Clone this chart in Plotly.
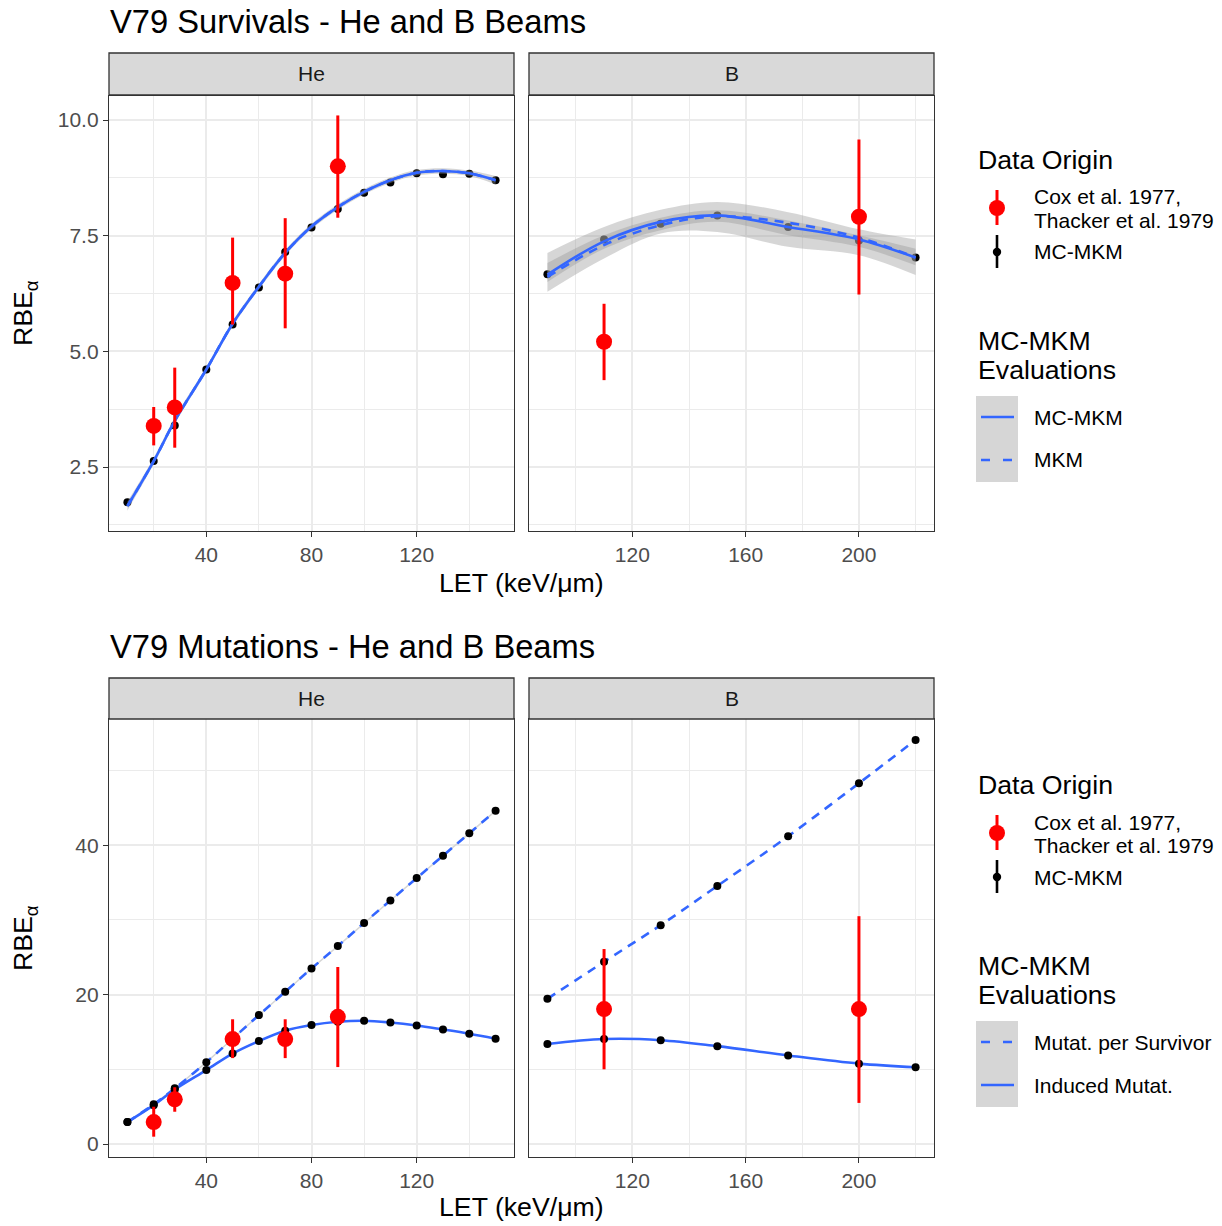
import plotly.graph_objects as go

FONT = "Liberation Sans, Arial, sans-serif"
W, H = 1222, 1226
BLUE = "#3366FF"

# ---------------- data ----------------
let_he = [10, 20, 28, 40, 50, 60, 70, 80, 90, 100, 110, 120, 130, 140, 150]
let_b = [90, 110, 130, 150, 175, 200, 220]

# Survival - MC-MKM points
surv_he_pts = [1.74, 2.63, 3.40, 4.61, 5.58, 6.38, 7.15, 7.68, 8.08, 8.43, 8.65, 8.85, 8.83, 8.84, 8.70]
surv_b_pts = [6.67, 7.42, 7.76, 7.94, 7.69, 7.40, 7.03]

# Survival - smoothed evaluations
surv_he_mcmkm = [1.66, 2.63, 3.50, 4.61, 5.60, 6.40, 7.13, 7.70, 8.12, 8.45, 8.70, 8.86, 8.90, 8.85, 8.70]
surv_he_mkm = [1.66, 2.63, 3.50, 4.61, 5.60, 6.40, 7.13, 7.70, 8.12, 8.45, 8.70, 8.86, 8.90, 8.85, 8.70]
surv_he_lo = [1.56, 2.56, 3.43, 4.55, 5.54, 6.34, 7.07, 7.64, 8.06, 8.39, 8.64, 8.80, 8.84, 8.79, 8.61]
surv_he_hi = [1.76, 2.70, 3.57, 4.67, 5.66, 6.46, 7.19, 7.76, 8.18, 8.51, 8.76, 8.92, 8.96, 8.91, 8.79]

surv_b_mcmkm = [6.66, 7.38, 7.80, 7.94, 7.69, 7.42, 7.03]
surv_b_mkm = [6.61, 7.30, 7.73, 7.92, 7.78, 7.46, 7.03]
surv_b_lo_wide = [6.29, 7.01, 7.55, 7.58, 7.26, 7.08, 6.65]
surv_b_hi_wide = [7.13, 7.69, 8.06, 8.23, 8.01, 7.64, 7.42]
surv_b_lo_narrow = [6.50, 7.22, 7.62, 7.80, 7.51, 7.26, 6.86]
surv_b_hi_narrow = [6.91, 7.51, 7.89, 8.05, 7.83, 7.51, 7.22]

# Survival - experimental (Cox 1977, Thacker 1979)
exp_surv_he_x = [20, 28, 50, 70, 90]
exp_surv_he_y = [3.39, 3.79, 6.48, 6.68, 9.00]
exp_surv_he_lo = [2.97, 2.92, 5.58, 5.50, 7.89]
exp_surv_he_hi = [3.80, 4.65, 7.46, 7.88, 10.10]
exp_surv_b_x = [110, 200]
exp_surv_b_y = [5.21, 7.91]
exp_surv_b_lo = [4.38, 6.23]
exp_surv_b_hi = [6.03, 9.58]

# Mutations - MC-MKM
mut_he_surv = [2.94, 5.31, 7.45, 10.93, 14.10, 17.26, 20.38, 23.50, 26.50, 29.60, 32.60, 35.60, 38.60, 41.60, 44.60]
mut_he_ind = [2.94, 5.20, 7.30, 9.90, 12.10, 13.78, 15.16, 15.92, 16.36, 16.50, 16.27, 15.87, 15.33, 14.76, 14.10]
mut_b_surv = [19.44, 24.40, 29.30, 34.55, 41.20, 48.30, 54.10]
mut_b_ind = [13.38, 14.05, 13.90, 13.10, 11.86, 10.76, 10.27]

# Mutations - experimental
exp_mut_he_x = [20, 28, 50, 70, 90]
exp_mut_he_y = [2.94, 5.98, 14.05, 14.05, 17.03]
exp_mut_he_lo = [0.98, 4.32, 11.50, 11.50, 10.30]
exp_mut_he_hi = [4.99, 7.60, 16.70, 16.70, 23.70]
exp_mut_b_x = [110, 200]
exp_mut_b_y = [18.06, 18.06]
exp_mut_b_lo = [10.00, 5.50]
exp_mut_b_hi = [26.10, 30.50]

# ticks
x_he_major = [40, 80, 120]
x_he_minor = [20, 60, 100, 140]
x_b_major = [120, 160, 200]
x_b_minor = [100, 140, 180, 220]
y_surv_major = [2.5, 5.0, 7.5, 10.0]
y_surv_minor = [1.25, 3.75, 6.25, 8.75]
y_mut_major = [0, 20, 40]
y_mut_minor = [10, 30, 50]

# ---------------- helpers ----------------
def px(x):
    return x / W


def py(y):
    return 1 - y / H


fig = go.Figure()


def pts(x, y, xa, ya):
    fig.add_trace(go.Scatter(x=x, y=y, xaxis=xa, yaxis=ya, mode="markers",
                             marker=dict(color="black", size=8), showlegend=False,
                             hoverinfo="skip"))


def ribbon(x, lo, hi, xa, ya):
    fig.add_trace(go.Scatter(x=x, y=lo, xaxis=xa, yaxis=ya, mode="lines",
                             line=dict(width=0, shape="spline"), showlegend=False,
                             hoverinfo="skip"))
    fig.add_trace(go.Scatter(x=x, y=hi, xaxis=xa, yaxis=ya, mode="lines",
                             line=dict(width=0, shape="spline"), fill="tonexty",
                             fillcolor="rgba(153,153,153,0.4)", showlegend=False,
                             hoverinfo="skip"))


def curve(x, y, xa, ya, dash="solid"):
    fig.add_trace(go.Scatter(x=x, y=y, xaxis=xa, yaxis=ya, mode="lines",
                             line=dict(color=BLUE, width=2.6, shape="spline",
                                       smoothing=1.0, dash=dash),
                             showlegend=False, hoverinfo="skip"))


def exp(x, y, lo, hi, xa, ya):
    fig.add_trace(go.Scatter(
        x=x, y=y, xaxis=xa, yaxis=ya, mode="markers",
        marker=dict(color="#FF0000", size=16),
        error_y=dict(type="data", symmetric=False,
                     array=[h - v for h, v in zip(hi, y)],
                     arrayminus=[v - l for l, v in zip(lo, y)],
                     color="#FF0000", thickness=3, width=0),
        showlegend=False, hoverinfo="skip"))


DASH = "9px,7px"

# ---- top He ----
pts(let_he, surv_he_pts, "x", "y")
ribbon(let_he, surv_he_lo, surv_he_hi, "x", "y")
curve(let_he, surv_he_mcmkm, "x", "y")
curve(let_he, surv_he_mkm, "x", "y", DASH)
exp(exp_surv_he_x, exp_surv_he_y, exp_surv_he_lo, exp_surv_he_hi, "x", "y")

# ---- top B ----
pts(let_b, surv_b_pts, "x2", "y2")
ribbon(let_b, surv_b_lo_wide, surv_b_hi_wide, "x2", "y2")
ribbon(let_b, surv_b_lo_narrow, surv_b_hi_narrow, "x2", "y2")
curve(let_b, surv_b_mcmkm, "x2", "y2")
curve(let_b, surv_b_mkm, "x2", "y2", DASH)
exp(exp_surv_b_x, exp_surv_b_y, exp_surv_b_lo, exp_surv_b_hi, "x2", "y2")

# ---- bottom He ----
fig.add_trace(go.Scatter(x=let_he, y=mut_he_surv, xaxis="x3", yaxis="y3", mode="lines",
                         line=dict(color="#D6D6D6", width=1.5), showlegend=False,
                         hoverinfo="skip"))
curve(let_he, mut_he_surv, "x3", "y3", DASH)
curve(let_he, mut_he_ind, "x3", "y3")
pts(let_he, mut_he_surv, "x3", "y3")
pts(let_he, mut_he_ind, "x3", "y3")
exp(exp_mut_he_x, exp_mut_he_y, exp_mut_he_lo, exp_mut_he_hi, "x3", "y3")

# ---- bottom B ----
curve(let_b, mut_b_surv, "x4", "y4", DASH)
curve(let_b, mut_b_ind, "x4", "y4")
pts(let_b, mut_b_surv, "x4", "y4")
pts(let_b, mut_b_ind, "x4", "y4")
exp(exp_mut_b_x, exp_mut_b_y, exp_mut_b_lo, exp_mut_b_hi, "x4", "y4")

# ---------------- axes ----------------
def axis(domain, rng, major, minor, labels=True, anchor=None, fmt=None):
    d = dict(domain=domain, range=rng, tickvals=major, showline=True, mirror=True,
             linecolor="#333333", linewidth=1.3, showgrid=True, gridcolor="#EBEBEB",
             gridwidth=2, zeroline=False, anchor=anchor,
             minor=dict(tickvals=minor, showgrid=True, gridcolor="#EBEBEB",
                        gridwidth=1, ticks=""),
             tickfont=dict(family=FONT, size=21, color="#4D4D4D"))
    if labels:
        d.update(ticks="outside", ticklen=5, tickwidth=1.3, tickcolor="#333333",
                 showticklabels=True)
    else:
        d.update(ticks="", showticklabels=False)
    if fmt:
        d["tickformat"] = fmt
    return d


xd_he = [px(109), px(514)]
xd_b = [px(529), px(934)]
yd_top = [py(531), py(96)]
yd_bot = [py(1157), py(719)]
xr_he = [3, 157]
xr_b = [83.5, 226.5]
yr_surv = [1.12, 10.52]
yr_mut = [-1.74, 56.9]

fig.update_layout(
    xaxis=axis(xd_he, xr_he, x_he_major, x_he_minor, anchor="y"),
    xaxis2=axis(xd_b, xr_b, x_b_major, x_b_minor, anchor="y2"),
    xaxis3=axis(xd_he, xr_he, x_he_major, x_he_minor, anchor="y3"),
    xaxis4=axis(xd_b, xr_b, x_b_major, x_b_minor, anchor="y4"),
    yaxis=axis(yd_top, yr_surv, y_surv_major, y_surv_minor, anchor="x", fmt=".1f"),
    yaxis2=axis(yd_top, yr_surv, y_surv_major, y_surv_minor, labels=False, anchor="x2"),
    yaxis3=axis(yd_bot, yr_mut, y_mut_major, y_mut_minor, anchor="x3"),
    yaxis4=axis(yd_bot, yr_mut, y_mut_major, y_mut_minor, labels=False, anchor="x4"),
)

# ---------------- decorations ----------------
shapes = []
ann = []


def text(x, y, s, size, color="black", xanchor="left", angle=0):
    ann.append(dict(x=px(x), y=py(y), xref="paper", yref="paper", text=s,
                    showarrow=False, xanchor=xanchor, yanchor="middle",
                    textangle=angle, font=dict(family=FONT, size=size, color=color)))


def rect(x0, y0, x1, y1, fill, line=None):
    shapes.append(dict(type="rect", xref="paper", yref="paper", x0=px(x0), x1=px(x1),
                       y0=py(y1), y1=py(y0), fillcolor=fill,
                       line=dict(color=line or fill, width=1.3 if line else 0),
                       layer="above" if line else "below"))


def seg(x0, y0, x1, y1, color, width, dash="solid"):
    shapes.append(dict(type="line", xref="paper", yref="paper", x0=px(x0), x1=px(x1),
                       y0=py(y0), y1=py(y1), line=dict(color=color, width=width, dash=dash)))


def dot(cx, cy, r, color):
    shapes.append(dict(type="circle", xref="paper", yref="paper",
                       x0=px(cx - r), x1=px(cx + r), y0=py(cy + r), y1=py(cy - r),
                       fillcolor=color, line=dict(color=color, width=0)))


# strips
for (y0, y1) in [(53, 95), (678, 719)]:
    rect(109, y0, 514, y1, "#D9D9D9", "#333333")
    rect(529, y0, 934, y1, "#D9D9D9", "#333333")
    text(311.5, (y0 + y1) / 2, "He", 21, "#1A1A1A", "center")
    text(731.5, (y0 + y1) / 2, "B", 21, "#1A1A1A", "center")

# titles
text(108, 21, "V79 Survivals - He and B Beams", 32.7)
text(108, 646, "V79 Mutations - He and B Beams", 32.7)

# axis titles
text(521.5, 583, "LET (keV/μm)", 26.7, xanchor="center")
text(521.5, 1207, "LET (keV/μm)", 26.7, xanchor="center")
text(25, 313, "RBE<sub>α</sub>", 26.7, xanchor="center", angle=-90)
text(25, 938, "RBE<sub>α</sub>", 26.7, xanchor="center", angle=-90)


def legend(base, eval_labels, eval_dashes):
    text(976, base, "Data Origin", 26.7)
    seg(997, base + 30, 997, base + 65, "#FF0000", 3)
    dot(997, base + 48, 8, "#FF0000")
    text(1032, base + 37, "Cox et al. 1977,", 21)
    text(1032, base + 60, "Thacker et al. 1979", 21)
    seg(997, base + 75, 997, base + 108, "black", 2.6)
    dot(997, base + 92, 4.2, "black")
    text(1032, base + 92, "MC-MKM", 21)
    text(976, base + 181, "MC-MKM", 26.7)
    text(976, base + 210, "Evaluations", 26.7)
    rect(976, base + 236, 1018, base + 322, "#D6D6D6")
    for i, (lab, dsh) in enumerate(zip(eval_labels, eval_dashes)):
        yy = base + 257 + 43 * i
        seg(981, yy, 1014, yy, BLUE, 2.6, dsh)
        text(1032, yy, lab, 21)


legend(160, ["MC-MKM", "MKM"], ["solid", "9px,13px"])
legend(785, ["Mutat. per Survivor", "Induced Mutat."], ["9px,13px", "solid"])

fig.update_layout(
    width=W, height=H, margin=dict(l=0, r=0, t=0, b=0), autosize=False,
    paper_bgcolor="white", plot_bgcolor="white",
    shapes=shapes, annotations=ann, showlegend=False,
    font=dict(family=FONT),
)

fig.write_html("out.html")
